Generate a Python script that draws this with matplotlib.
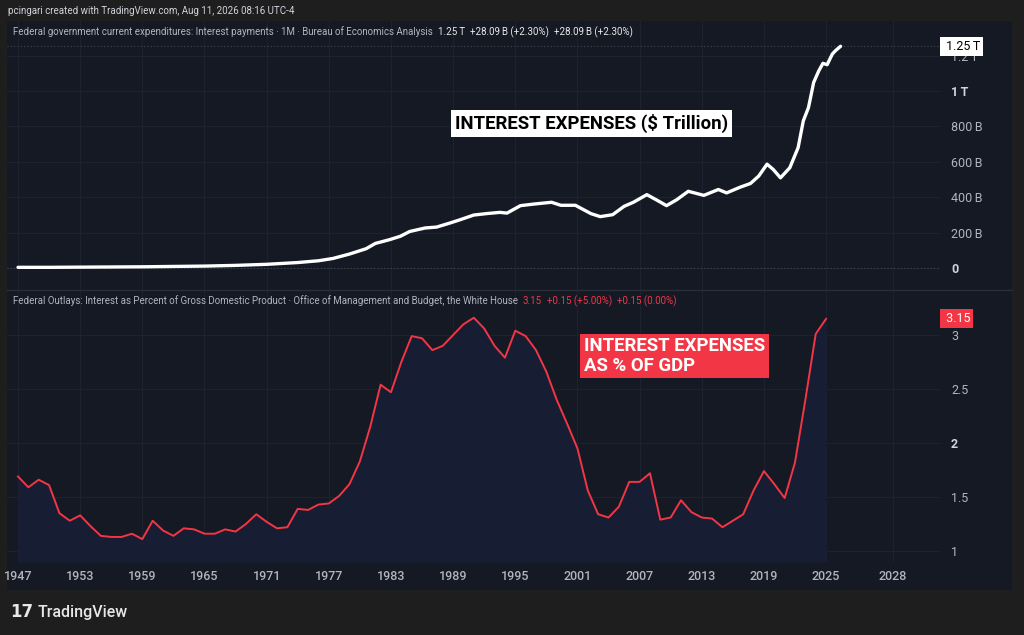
import numpy as np
import matplotlib.pyplot as plt
from matplotlib.patches import Rectangle
from matplotlib.ticker import FuncFormatter

plt.rcParams['font.family'] = ['Roboto', 'DejaVu Sans']

# top series: federal interest payments, billions of dollars
top_dates = [1947, 1950, 1953, 1956, 1959, 1962, 1965, 1968, 1971, 1974, 1976,
             1977.4, 1979, 1980.6, 1981.5, 1982.8, 1983.9, 1984.8, 1986.3, 1987.4,
             1988.7, 1989.7, 1991, 1992.2, 1993.5, 1994.2, 1995.5, 1996.8, 1998.5,
             1999.4, 2000.8, 2002.3, 2003.2, 2004.4, 2005.5, 2006.4, 2007.7, 2008.7,
             2009.6, 2010.6, 2011.7, 2013.2, 2014.6, 2015.4, 2016.7, 2017.7, 2018.5,
             2019.3, 2019.9, 2020.6, 2021.5, 2022.3, 2022.8, 2023.3, 2023.8, 2024.3,
             2024.7, 2025.1, 2025.6, 2025.9, 2026.4]
top_values = [5, 5, 6, 7, 8, 10, 12, 16, 22, 32, 42,
              55, 80, 110, 140, 160, 180, 207, 227, 232,
              255, 274, 300, 308, 315, 311, 353, 362, 372,
              355, 355, 308, 291, 302, 349, 372, 415, 383,
              353, 387, 434, 411, 444, 425, 457, 478, 520,
              587, 557, 510, 567, 680, 831, 906, 1048, 1114,
              1156, 1148, 1208, 1227, 1252]

# bottom series: interest as % of GDP, yearly
gdp_years = list(range(1947, 2026))
gdp_pct = [1.69, 1.59, 1.66, 1.61, 1.35, 1.28, 1.33, 1.23, 1.14, 1.13,
           1.13, 1.16, 1.11, 1.28, 1.19, 1.14, 1.21, 1.20, 1.16, 1.16,
           1.20, 1.18, 1.25, 1.34, 1.27, 1.21, 1.22, 1.39, 1.38, 1.43,
           1.44, 1.51, 1.62, 1.83, 2.15, 2.54, 2.47, 2.75, 2.99, 2.97,
           2.86, 2.90, 3.00, 3.10, 3.16, 3.06, 2.90, 2.79, 3.04, 2.99,
           2.86, 2.66, 2.40, 2.18, 1.95, 1.56, 1.34, 1.31, 1.41, 1.64,
           1.64, 1.72, 1.29, 1.31, 1.47, 1.36, 1.31, 1.30, 1.22, 1.28,
           1.34, 1.56, 1.74, 1.62, 1.49, 1.82, 2.40, 3.01, 3.15]

year_ticks = list(range(1947, 2026, 6))
top_ticks = [0, 200, 400, 600, 800, 1000, 1200]
gdp_ticks = [1, 1.5, 2, 2.5, 3]

W, H = 1024, 635
OUTER = '#1e1e1e'
PANE = '#151924'
GRID = '#1e2230'
TXT = '#b2b5be'
RED = '#f23645'


def rect(x0, y0, x1, y1):
    return [x0 / W, 1 - y1 / H, (x1 - x0) / W, (y1 - y0) / H]


def px2year(px):
    return 1947 + (px - 18) / 10.36


fig = plt.figure(figsize=(W / 100, H / 100), dpi=100, facecolor=OUTER)
fig.patches.append(Rectangle((7 / W, 1 - 590 / H), (1012 - 7) / W, (590 - 21) / H,
                             transform=fig.transFigure, facecolor=PANE,
                             edgecolor='none', zorder=-10))

ax1 = fig.add_axes(rect(7, 21, 940, 290))
ax2 = fig.add_axes(rect(7, 290, 940, 562), sharex=ax1)
xticks = year_ticks + [px2year(893)]
xlabels = [str(y) for y in year_ticks] + ['2028']

for ax in (ax1, ax2):
    ax.set_facecolor('none')
    for s in ax.spines.values():
        s.set_visible(False)
    ax.yaxis.tick_right()
    ax.tick_params(axis='both', length=0, colors=TXT, labelsize=9)
    ax.set_xticks(xticks)
    ax.grid(True, color=GRID, lw=0.8)
    ax.set_axisbelow(True)

ax1.set_xlim(px2year(7), px2year(940))
ax1.tick_params(axis='x', labelbottom=False)
ax2.set_xticklabels(xlabels, fontweight='medium')
ax2.tick_params(axis='x', pad=6)
ax1.tick_params(axis='y', pad=8)
ax2.tick_params(axis='y', pad=8)

# top pane
ax1.set_ylim(-122.9, 1394.7)
ax1.set_yticks(top_ticks)


def fmt_b(v, pos):
    if v == 0:
        return '0'
    if v >= 1000:
        return f'{v / 1000:g}\u2009T'
    return f'{v:g}\u2009B'


ax1.yaxis.set_major_formatter(FuncFormatter(fmt_b))
for lab, v in zip(ax1.get_yticklabels(), top_ticks):
    if v in (0, 1000):
        lab.set_fontweight('bold')
        lab.set_color('#d1d4dc')
ax1.plot(top_dates, top_values, color='white', lw=2.4, solid_capstyle='round',
         solid_joinstyle='round', zorder=3)
ax1.axhline(0, color='#434651', lw=0.8, ls=(0, (1, 2)), zorder=1)
ax1.axhline(top_values[-1], color='#434651', lw=0.8, ls=(0, (1, 2)), zorder=1)
ax1.annotate(' 1.25\u2009T', xy=(1.003, top_values[-1]),
             xycoords=('axes fraction', 'data'), va='center', ha='left',
             fontsize=9, color='black',
             bbox=dict(boxstyle='square,pad=0.25', fc='white', ec='none'),
             annotation_clip=False, zorder=5)
ax1.text(px2year(455), 815, 'INTEREST EXPENSES ($ Trillion)', fontsize=13.4,
         fontweight='bold', color='black', va='center', ha='left',
         bbox=dict(boxstyle='square,pad=0.2', fc='white', ec='none'))

# bottom pane
ax2.set_ylim(0.898, 3.417)
ax2.set_yticks(gdp_ticks)
ax2.yaxis.set_major_formatter(FuncFormatter(lambda v, p: f'{v:g}'))
for lab, v in zip(ax2.get_yticklabels(), gdp_ticks):
    if v == 2:
        lab.set_fontweight('bold')
        lab.set_color('#d1d4dc')
ax2.fill_between(gdp_years, gdp_pct, 0.898, color='#171d33', lw=0, zorder=2)
ax2.plot(gdp_years, gdp_pct, color=RED, lw=1.4, solid_joinstyle='round', zorder=3)
ax2.annotate(' 3.15', xy=(1.003, gdp_pct[-1]), xycoords=('axes fraction', 'data'),
             va='center', ha='left', fontsize=9, color='white',
             bbox=dict(boxstyle='square,pad=0.25', fc=RED, ec='none'),
             annotation_clip=False, zorder=5)
ax2.text(px2year(584), 2.806, 'INTEREST EXPENSES\nAS % OF GDP', fontsize=13.4,
         fontweight='bold', color='white', va='center', ha='left', linespacing=1.1,
         bbox=dict(boxstyle='square,pad=0.2', fc=RED, ec='none'))

# pane separator
fig.add_artist(plt.Line2D([7 / W, 1012 / W], [1 - 290 / H] * 2, color='#2a2e39', lw=1))

# header and legends
renderer = fig.canvas.get_renderer()


def seq_text(x_px, y_px, parts, size):
    x = x_px
    for s, c in parts:
        t = fig.text(x / W, 1 - y_px / H, s, color=c, fontsize=size, va='center', ha='left')
        x += t.get_window_extent(renderer).width + 5


fig.text(8 / W, 1 - 11 / H, 'pcingari created with TradingView.com, Aug 11, 2026 08:16 UTC-4',
         color='#d1d4dc', fontsize=7.0, va='center', ha='left')
seq_text(13, 32, [('Federal government current expenditures: Interest payments \u00b7 1M \u00b7 '
                   'Bureau of Economics Analysis', TXT),
                  ('1.25\u2009T', '#e8e8e8'), ('+28.09\u2009B (+2.30%)', '#e8e8e8'),
                  ('+28.09\u2009B (+2.30%)', '#e8e8e8')], 7.0)
seq_text(13, 301, [('Federal Outlays: Interest as Percent of Gross Domestic Product \u00b7 '
                    'Office of Management and Budget, the White House', TXT),
                   ('3.15', RED), ('+0.15 (+5.00%)', RED), ('+0.15 (0.00%)', RED)], 7.0)

# footer logo
fig.text(10 / W, 1 - 612 / H, '17', color='#e8e8e8', fontsize=12, fontweight='black',
         va='center', ha='left', family=['DejaVu Sans'])
fig.text(38 / W, 1 - 612 / H, 'TradingView', color='#e8e8e8', fontsize=11.5,
         fontweight='medium', va='center', ha='left')

fig.savefig('out.png', dpi=100, facecolor=OUTER)
